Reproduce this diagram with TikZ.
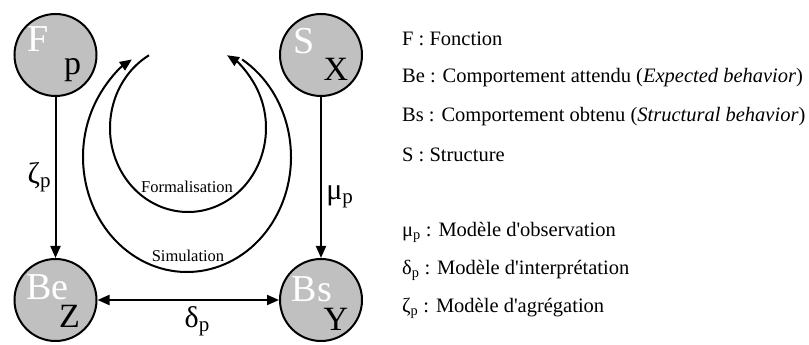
\documentclass[tikz,border=0pt]{standalone}
\usepackage{fontspec}
\setmainfont{Liberation Serif}
\usetikzlibrary{arrows.meta,calc}
\definecolor{disc}{HTML}{C0C0C0}

\begin{document}
\begin{tikzpicture}[x=1pt,y=1pt,>={Triangle[length=12pt,width=10pt]},
  state/.style={circle,draw,fill=disc,line width=2pt,minimum size=82pt,inner sep=0pt},
  tag/.style={white,inner sep=0pt,font=\fontsize{38}{40}\selectfont},
  idx/.style={inner sep=0pt,font=\fontsize{34}{36}\selectfont},
  link/.style={line width=2pt,->},
  greek/.style={font=\fontsize{30}{34}\selectfont},
  arclbl/.style={inner sep=0pt,font=\fontsize{16.5}{18}\selectfont},
  legend/.style={anchor=west,inner sep=0pt,font=\fontsize{20.5}{24}\selectfont}]
  \useasboundingbox (0,0) rectangle (809,345);

  % the four states
  \node[state] (F)  at (55.5,290) {};
  \node[state] (Be) at (55.5,45)  {};
  \node[state] (S)  at (321,290)  {};
  \node[state] (Bs) at (321,45)   {};

  \node[tag] (F-tag)  at ($(F)+(-17,16)$)  {F};
  \node[idx] (F-idx)  at ($(F)+(17,-15)$)  {p};
  \node[tag] (Be-tag) at ($(Be)+(-8,13)$)  {Be};
  \node[idx] (Be-idx) at ($(Be)+(14,-16)$) {Z};
  \node[tag] (S-tag)  at ($(S)+(-17,14)$)  {S};
  \node[idx] (S-idx)  at ($(S)+(15,-14)$)  {X};
  \node[tag] (Bs-tag) at ($(Bs)+(-9,11)$)  {Bs};
  \node[idx] (Bs-idx) at ($(Bs)+(15,-19)$) {Y};

  \draw[link] (F) -- (Be)
    node[greek,pos=.5,left=0pt] (zeta) {ζ\textsubscript{p}};
  \draw[link] (S) -- (Bs)
    node[greek,pos=.62,right=1pt] (mu) {μ\textsubscript{p}};
  \draw[link,<->] (Be) -- (Bs)
    node[greek,midway,below=2pt,xshift=9pt] (delta) {δ\textsubscript{p}};

  % the two loops between the states
  \coordinate (form-start) at ($(188,217)+(120:78 and 84)$);
  \coordinate (sim-start)  at ($(187,188)+(58:104 and 115)$);
  \draw[line width=2pt,->] (form-start)
    arc[start angle=120,end angle=420,x radius=78,y radius=84];
  \draw[line width=2pt,->] (sim-start)
    arc[start angle=58,end angle=-238,x radius=104,y radius=115];
  \node[arclbl] (form-lbl) at (187,158) {Formalisation};
  \node[arclbl] (sim-lbl)  at (188,89)  {Simulation};

  % legend
  \foreach \y/\txt [count=\i] in {306/{F : Fonction},
      267/{Be : Comportement attendu (\textit{Expected behavior})},
      228/{Bs : Comportement obtenu (\textit{Structural behavior})},
      190/{S : Structure},
      113/{μ\textsubscript{p} : Modèle d\textquotesingle observation},
      75/{δ\textsubscript{p} : Modèle d\textquotesingle interprétation},
      37/{ζ\textsubscript{p} : Modèle d\textquotesingle agrégation}}
    \node[legend] (leg-\i) at (402,\y) {\txt};
\end{tikzpicture}
\end{document}
